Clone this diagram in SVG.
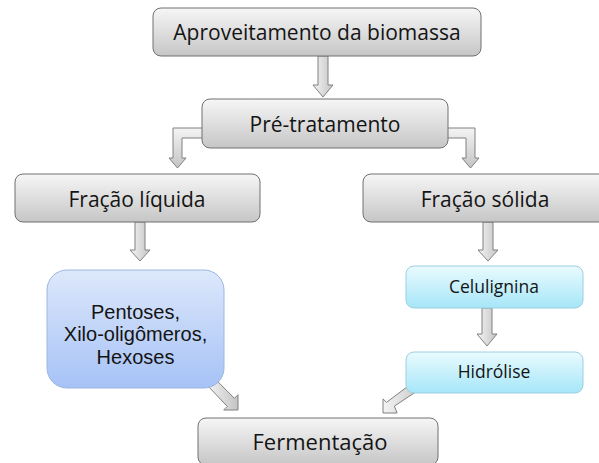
<svg xmlns="http://www.w3.org/2000/svg" width="599" height="463" viewBox="0 0 599 463">
<defs>
<linearGradient id="gGrey" x1="0" y1="0" x2="0" y2="1">
<stop offset="0" stop-color="#f6f6f6"/>
<stop offset="1" stop-color="#c6c6c6"/>
</linearGradient>
<linearGradient id="gBlue" x1="0" y1="0" x2="0" y2="1">
<stop offset="0" stop-color="#dde8fb"/>
<stop offset="1" stop-color="#a6c2f6"/>
</linearGradient>
<linearGradient id="gCyan" x1="0" y1="0" x2="0" y2="1">
<stop offset="0" stop-color="#e9fbfe"/>
<stop offset="1" stop-color="#a6e6f8"/>
</linearGradient>
<linearGradient id="gArrow" x1="0" y1="0" x2="1" y2="0">
<stop offset="0" stop-color="#f4f4f4"/>
<stop offset="1" stop-color="#c4c4c4"/>
</linearGradient>
<linearGradient id="gArrowV" x1="0" y1="0" x2="0" y2="1">
<stop offset="0" stop-color="#f4f4f4"/>
<stop offset="1" stop-color="#c4c4c4"/>
</linearGradient>
</defs>
<style>
.box{fill:url(#gGrey);stroke:#707070;stroke-width:1}
.blue{fill:url(#gBlue);stroke:#9cb6e2;stroke-width:1}
.cyan{fill:url(#gCyan);stroke:#9ccfe2;stroke-width:1}
.arr{fill:url(#gArrow);stroke:#808080;stroke-width:1;stroke-linejoin:miter}
.arrv{fill:url(#gArrowV);stroke:#808080;stroke-width:1}
text{font-family:"Open Sans","Noto Sans","Liberation Sans",sans-serif;fill:#141414;text-anchor:middle}
.big{font-size:21px}
.small{font-size:17.5px}
.mid{font-size:20px;font-family:"Liberation Sans",Arial,sans-serif}
</style>
<g id="connectors">
<polygon class="arr" points="318,56 328,56 328,85 333,85 323,97 313,85 318,85"/>
<polygon class="arrv" points="203,128 173,128 173,158 169,158 177.5,168 186,158 182,158 182,138 203,138"/>
<polygon class="arrv" points="447,128 475,128 475,158 479,158 470.5,168 462,158 466,158 466,138 447,138"/>
<polygon class="arr" points="135,222 145,222 145,250 150,250 140,261 130,250 135,250"/>
<polygon class="arr" points="483,222 493,222 493,250 498,250 488,261 478,250 483,250"/>
<polygon class="arr" points="482,308 492,308 492,334 497,334 487,346 477,334 482,334"/>
<polygon class="arr" points="206.5,384.5 213.6,377.4 234.4,398.3 238,394.7 238,410 223.7,410 227.3,406.4"/>
<polygon class="arr" points="417,379.4 424,386.5 394.4,406.1 397.1,413 383,413 383,398.9 386.5,402.4"/>
</g>
<g id="n1"><rect class="box" x="153" y="8" width="328" height="48" rx="8"/><text class="big" x="317" y="40">Aproveitamento da biomassa</text></g>
<g id="n2"><rect class="box" x="202" y="99" width="246" height="49" rx="8"/><text class="big" x="325" y="132">Pré-tratamento</text></g>
<g id="n3"><rect class="box" x="15" y="174" width="245" height="48" rx="8"/><text class="big" x="137" y="207">Fração líquida</text></g>
<g id="n4"><rect class="box" x="363" y="174" width="246" height="48" rx="8"/><text class="big" x="485" y="207">Fração sólida</text></g>
<g id="n5"><rect class="blue" x="47" y="270" width="177" height="118" rx="20"/><text class="mid" x="135.5" y="318.5">Pentoses,</text><text class="mid" x="135.5" y="341">Xilo-oligômeros,</text><text class="mid" x="135.5" y="363.5">Hexoses</text></g>
<g id="n6"><rect class="cyan" x="406" y="266" width="177" height="42" rx="8"/><text class="small" x="494" y="293">Celulignina</text></g>
<g id="n7"><rect class="cyan" x="406" y="352" width="177" height="41" rx="8"/><text class="small" x="494" y="378">Hidrólise</text></g>
<g id="n8"><rect class="box" x="198" y="418" width="240" height="47" rx="8"/><text class="big" x="320" y="450" style="font-size:22px">Fermentação</text></g>
</svg>
